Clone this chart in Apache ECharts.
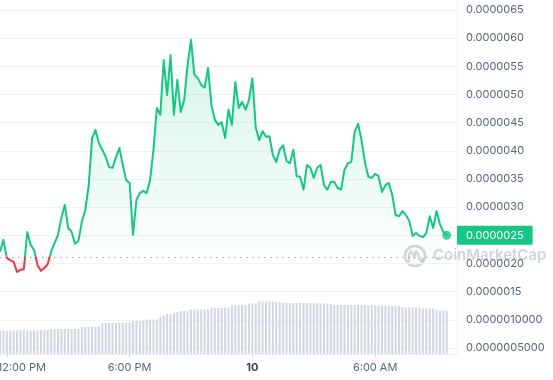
<!DOCTYPE html>
<html>
<head>
<meta charset="utf-8">
<script src="https://cdn.jsdelivr.net/npm/echarts@6/dist/echarts.min.js"></script>
<style>
html,body{margin:0;padding:0;background:#fff;}
#main{width:553px;height:380px;}
</style>
</head>
<body>
<div id="main"></div>
<script>
// Price in units of 1e-6 USD, 10-minute steps starting 11:40 AM
const prices = [
  2.21, 2.42, 2.10, 2.06, 2.03, 1.85, 1.89, 1.90, 2.56, 2.33,
  2.24, 1.97, 1.87, 1.92, 1.99, 2.21, 2.36, 2.51, 2.81, 3.04,
  2.63, 2.56, 2.35, 2.40, 2.74, 2.95, 3.38, 4.23, 4.37, 4.14,
  4.02, 3.89, 3.71, 3.70, 3.89, 4.05, 3.75, 3.48, 3.43, 2.51,
  3.13, 3.25, 3.29, 3.25, 3.48, 4.02, 4.76, 4.64, 5.61, 4.99,
  5.70, 4.64, 5.26, 4.69, 4.90, 5.52, 5.97, 5.35, 5.29, 5.17,
  5.12, 5.47, 4.81, 4.55, 4.46, 4.51, 4.23, 4.73, 4.46, 5.22,
  4.76, 4.87, 4.73, 4.90, 5.29, 4.41, 4.19, 4.35, 4.25, 4.26,
  3.93, 3.80, 4.02, 4.10, 3.82, 3.78, 4.02, 3.55, 3.54, 3.31,
  3.75, 3.70, 3.52, 3.70, 3.75, 3.39, 3.31, 3.45, 3.45, 3.34,
  3.31, 3.66, 3.78, 3.80, 4.34, 4.48, 4.19, 3.80, 3.54, 3.52,
  3.59, 3.55, 3.27, 3.39, 3.43, 3.22, 2.86, 2.84, 2.93, 2.86,
  2.76, 2.49, 2.54, 2.49, 2.47, 2.54, 2.84, 2.63, 2.93, 2.70,
  2.56, 2.50
];
// 24h volume (relative units)
const volumes = [
  47, 47, 46, 47, 47, 47, 47, 48, 47, 47, 47, 47, 48, 48, 48,
  50, 50, 50, 50, 50, 50, 50, 50, 50,
  54, 54, 54, 54, 54, 55,
  62, 62, 62, 62, 62, 63, 63, 63, 63,
  66, 66, 66, 66,
  69, 69, 69, 69,
  74, 76,
  80, 80, 82, 84,
  86, 86, 86,
  89, 89, 89, 89, 89, 89,
  92, 92, 92, 92, 93, 93,
  97, 97, 97, 97, 98,
  101, 101, 101,
  105, 105, 105, 105, 105, 104, 104,
  102, 102, 102, 102, 102, 102, 102, 102, 102, 102, 102, 101, 101, 101, 100,
  98, 98, 98, 98, 98, 98, 98, 98,
  98, 98, 97, 97, 97, 97, 97,
  96, 96, 96, 96, 96,
  94, 93, 93, 93, 93, 93,
  91, 91, 91, 91,
  88, 87, 87, 87
];
const baseline = 2.12;            // opening price (1e-6)
const xTickIdx = [2, 38, 74, 110];
const xTickLabels = ['12:00 PM', '6:00 PM', '10', '6:00 AM'];
const yTickValues = [0.5, 1.0, 1.5, 2.0, 2.5, 3.0, 3.5, 4.0, 4.5, 5.0, 5.5, 6.0, 6.5];
const yTickLabels = ['0.0000005000', '0.0000010000', '0.0000015', '0.0000020', '0.0000025', '0.0000030',
  '0.0000035', '0.0000040', '0.0000045', '0.0000050', '0.0000055', '0.0000060', '0.0000065'];
const totalSlots = 135;

const categories = [];
for (let i = 0; i < totalSlots; i++) {
  const m = 11 * 60 + 40 + i * 10;
  const h = Math.floor(m / 60) % 24, mm = m % 60;
  categories.push(String(h).padStart(2, '0') + ':' + String(mm).padStart(2, '0'));
}
const lastIdx = prices.length - 1;
const lastVal = prices[lastIdx];
const endDot = prices.map((v, i) => i === lastIdx ? v : null);

const GREEN = '#16c784', RED = '#ea3943', LABEL = '#58667e', GRID = '#eff2f5';
const FONT = 'Inter';
const WM = 'rgba(150,160,185,0.45)';

const option = {
  animation: false,
  backgroundColor: '#fff',
  grid: { left: 0, right: 96, top: 0, bottom: 26, containLabel: false, outerBoundsMode: 'none' },
  xAxis: {
    type: 'category',
    data: categories,
    boundaryGap: false,
    axisLine: { show: true, lineStyle: { color: GRID } },
    axisTick: { show: true, length: 3, interval: (i) => xTickIdx.indexOf(i) >= 0, lineStyle: { color: '#cfd6e4' } },
    splitLine: { show: false },
    axisLabel: {
      interval: (i) => xTickIdx.indexOf(i) >= 0,
      margin: 8,
      color: LABEL,
      fontSize: 11,
      fontFamily: FONT,
      hideOverlap: false,
      formatter: (val, idx) => {
        const k = xTickIdx.indexOf(idx);
        if (k < 0) return '';
        const t = xTickLabels[k];
        if (k === 0) return '{first|' + t + '}';
        if (t === '10') return '{day|' + t + '}';
        return t;
      },
      rich: {
        first: { padding: [0, 0, 0, 30], color: LABEL, fontSize: 11, fontFamily: FONT },
        day: { fontWeight: 700, color: '#3a4456', fontSize: 11, fontFamily: FONT }
      }
    }
  },
  yAxis: [{
    type: 'value',
    position: 'right',
    min: 0.394,
    max: 6.677,
    axisLine: { show: true, lineStyle: { color: GRID } },
    axisTick: { show: false, customValues: yTickValues },
    splitLine: { show: true, lineStyle: { color: GRID, width: 1 } },
    axisLabel: {
      customValues: yTickValues,
      margin: 9,
      color: LABEL,
      fontSize: 11,
      fontFamily: FONT,
      formatter: (v) => {
        const k = yTickValues.findIndex(t => Math.abs(t - v) < 1e-6);
        return k >= 0 ? yTickLabels[k] : '';
      }
    }
  }, {
    type: 'value',
    min: 0,
    max: 708,
    show: false,
    splitLine: { show: false }
  }],
  series: [{
    id: 'price',
    type: 'line',
    data: prices,
    yAxisIndex: 0,
    showSymbol: false,
    symbol: 'none',
    smooth: false,
    z: 5,
    lineStyle: { width: 2, join: 'round', color: GREEN },
    areaStyle: { origin: baseline, color: 'rgba(22,199,132,0.12)' },
    markLine: {
      silent: true,
      symbol: 'none',
      animation: false,
      data: [
        { yAxis: baseline, lineStyle: { color: '#a1a7bb', type: [1.5, 4.5], width: 1.2 }, label: { show: false } },
        {
          yAxis: lastVal,
          lineStyle: { color: 'rgba(0,0,0,0)', width: 0 },
          label: {
            show: true, position: 'end', distance: 0,
            formatter: (p) => (p.value * 1e-6).toFixed(7),
            backgroundColor: GREEN, color: '#fff', fontSize: 11, fontFamily: FONT,
            padding: [4, 9, 4, 9], borderRadius: 1
          }
        }
      ]
    }
  }, {
    type: 'bar',
    data: volumes,
    yAxisIndex: 1,
    barWidth: 2,
    itemStyle: { color: '#cfd6e4' },
    z: 1
  }, {
    type: 'scatter',
    data: endDot,
    yAxisIndex: 0,
    symbolSize: 9,
    itemStyle: { color: GREEN },
    z: 6
  }],
  graphic: [{
    type: 'circle', silent: true, z: 0,
    shape: { cx: 415, cy: 256, r: 10 },
    style: { fill: 'none', stroke: WM, lineWidth: 2.5 }
  }, {
    type: 'polyline', silent: true, z: 0,
    shape: { points: [[409, 261], [409, 255], [411, 251], [413, 254], [414, 258], [416, 251], [418, 254], [419, 259], [421, 261], [423, 259]] },
    style: { fill: 'none', stroke: WM, lineWidth: 2.2, lineCap: 'round', lineJoin: 'round' }
  }, {
    type: 'text', silent: true, z: 0,
    x: 433, y: 248,
    style: { text: 'CoinMarketCap', fill: WM, font: '600 15px Inter' }
  }]
};

const chart = echarts.init(document.getElementById('main'), null, { renderer: 'canvas' });
chart.setOption(option);

const yTop = chart.convertToPixel({ yAxisIndex: 0 }, Math.max(...prices));
const yBase = chart.convertToPixel({ yAxisIndex: 0 }, baseline);
const yLow = chart.convertToPixel({ yAxisIndex: 0 }, Math.min(...prices));
const t = Math.min(0.999, Math.max(0.001, (yBase - yTop) / (yLow - yTop)));
chart.setOption({
  series: [{
    id: 'price',
    lineStyle: {
      color: new echarts.graphic.LinearGradient(0, yTop, 0, yLow, [
        { offset: 0, color: GREEN },
        { offset: t, color: GREEN },
        { offset: t, color: RED },
        { offset: 1, color: RED }
      ], true)
    },
    areaStyle: {
      origin: baseline,
      color: new echarts.graphic.LinearGradient(0, yTop, 0, yLow, [
        { offset: 0, color: 'rgba(22,199,132,0.26)' },
        { offset: t, color: 'rgba(22,199,132,0.02)' },
        { offset: t, color: 'rgba(234,57,67,0.05)' },
        { offset: 1, color: 'rgba(234,57,67,0.14)' }
      ], true)
    }
  }]
});
</script>
</body>
</html>
